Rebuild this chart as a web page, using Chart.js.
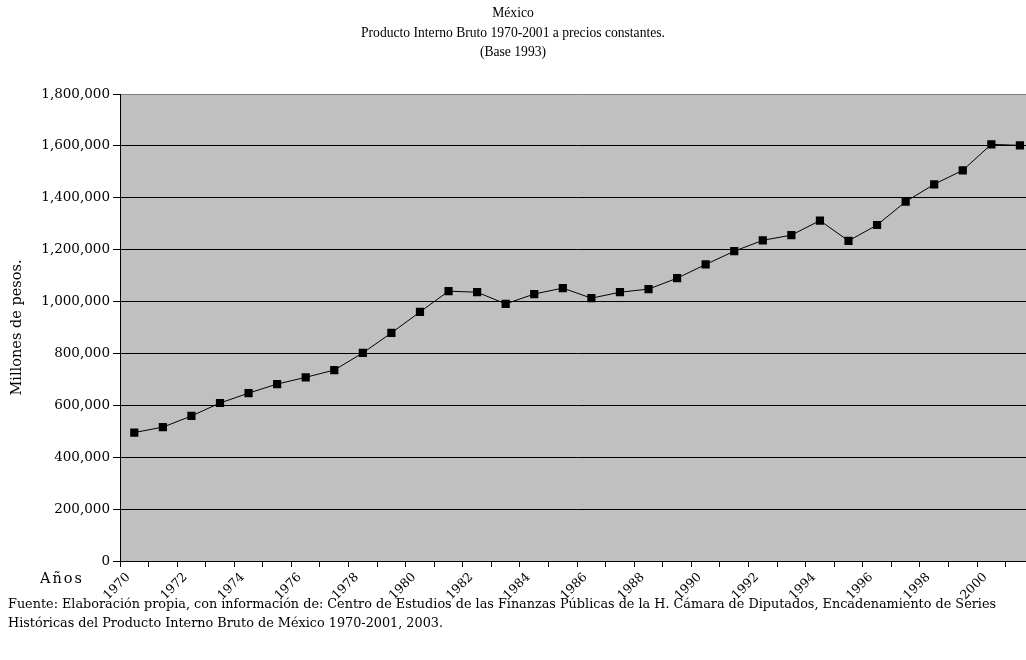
<!DOCTYPE html>
<html>
<head>
<meta charset="utf-8">
<script src="https://cdn.jsdelivr.net/npm/chart.js@4"></script>
<style>
  body { margin: 0; background: #fff; }
  #wrap { position: relative; width: 1026px; height: 660px; overflow: hidden; color: #000; }
  #pib { position: absolute; left: 0; top: 0; }
  .txt { position: absolute; white-space: nowrap; }
  #titulo { left: 0; width: 1026px; top: 3px; text-align: center;
            font: 13.6px "Liberation Serif", serif; line-height: 19.5px; }
  #anios { left: 40px; top: 570px; font: 14.5px "DejaVu Serif", serif; letter-spacing: 2px; }
  #fuente { left: 8px; top: 594px; font: 12.8px "DejaVu Serif", serif; line-height: 19px; }
</style>
</head>
<body>
<div id="wrap">
  <canvas id="pib" width="1040" height="660"></canvas>
  <div class="txt" id="titulo">México<br>Producto Interno Bruto 1970-2001 a precios constantes.<br>(Base 1993)</div>
  <div class="txt" id="anios">Años</div>
  <div class="txt" id="fuente">Fuente: Elaboración propia, con información de: Centro de Estudios de las Finanzas Públicas de la H. Cámara de Diputados, Encadenamiento de Series<br>Históricas del Producto Interno Bruto de México 1970-2001, 2003.</div>
</div>
<script>
// años y PIB (millones de pesos, base 1993)
let years = ['1970', '1971', '1972', '1973', '1974', '1975', '1976', '1977', '1978', '1979',
    '1980', '1981', '1982', '1983', '1984', '1985', '1986', '1987', '1988', '1989',
    '1990', '1991', '1992', '1993', '1994', '1995', '1996', '1997', '1998', '1999',
    '2000', '2001'];
let pib = [495000, 516000, 559000, 609000, 647000, 682000, 708000, 736000, 802000, 879000,
    960000, 1040000, 1036000, 991000, 1029000, 1052000, 1013000, 1036000, 1048000, 1090000,
    1143000, 1194000, 1236000, 1256000, 1312000, 1234000, 1295000, 1385000, 1452000, 1506000,
    1606000, 1602000];
let yTicks = [0, 200000, 400000, 600000, 800000, 1000000, 1200000, 1400000, 1600000, 1800000];

let tickFont = { family: '"DejaVu Serif", serif', size: 13.5 };

// fondo gris del área de trazado
let plotBg = {
    id: 'plotBg',
    beforeDraw(chart) {
        let a = chart.chartArea;
        let ctx = chart.ctx;
        ctx.save();
        ctx.fillStyle = '#c0c0c0';
        ctx.fillRect(a.left, a.top, a.right - a.left, a.bottom - a.top);
        ctx.restore();
    }
};

let pibChart = new Chart(document.getElementById('pib').getContext('2d'), {
    type: 'line',
    data: {
        labels: years,
        datasets: [{
            label: 'PIB',
            data: pib,
            borderColor: '#000',
            borderWidth: 1,
            backgroundColor: '#000',
            pointStyle: 'rect',
            pointRadius: 5.8,
            pointBorderWidth: 0,
            tension: 0,
            fill: false
        }]
    },
    options: {
        responsive: false,
        animation: false,
        layout: { padding: { top: 94, right: 4, left: 0, bottom: 0 } },
        plugins: {
            legend: { display: false },
            tooltip: { enabled: false }
        },
        scales: {
            x: {
                offset: true,
                afterFit(s) {
                    s.height = 99;
                    s.paddingLeft = 0;
                    s.paddingRight = 0;
                },
                grid: {
                    offset: true,
                    drawOnChartArea: false,
                    tickLength: 6,
                    color: '#000'
                },
                border: { color: '#000', width: 1 },
                ticks: {
                    autoSkip: false,
                    minRotation: 45,
                    maxRotation: 45,
                    padding: 3,
                    labelOffset: -6,
                    color: '#000',
                    font: { family: '"DejaVu Serif", serif', size: 12.5 },
                    callback: (v, i) => (i % 2 === 0 ? years[i] : '')
                }
            },
            y: {
                min: 0,
                max: 1800000,
                afterFit(s) {
                    s.width = 120;
                    s.paddingTop = 0;
                    s.paddingBottom = 0;
                },
                afterBuildTicks(s) { s.ticks = yTicks.map(v => ({ value: v })); },
                grid: {
                    tickLength: 7,
                    color: c => (c.tick && c.tick.value === 1800000 ? '#808080' : '#000'),
                    tickColor: '#000'
                },
                border: { color: '#000', width: 1 },
                ticks: {
                    padding: 3,
                    color: '#000',
                    font: tickFont,
                    callback: v => v.toLocaleString('en-US')
                },
                title: {
                    display: true,
                    text: 'Millones de pesos.',
                    color: '#000',
                    font: { family: '"DejaVu Serif", serif', size: 14.5 },
                    padding: { top: 9, bottom: 0 }
                }
            }
        }
    },
    plugins: [plotBg]
});
</script>
</body>
</html>
